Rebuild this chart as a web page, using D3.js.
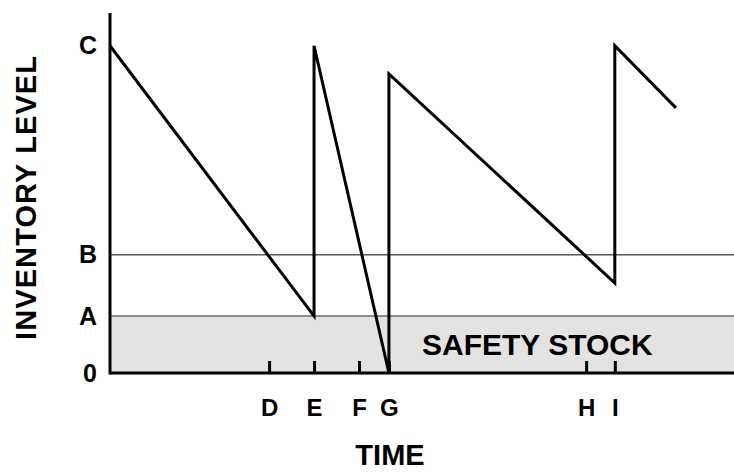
<!DOCTYPE html>
<html>
<head>
<meta charset="utf-8">
<script src="https://cdn.jsdelivr.net/npm/d3@7"></script>
<style>
    body { margin: 0; background: #fff; }
    text { font-family: "Liberation Sans", Arial, sans-serif; font-weight: bold; fill: #000; }
</style>
</head>
<body>
<div id="chart"></div>
<script>
// data (time and inventory in arbitrary units)
const levelNames = ["0", "A", "B", "C"]
const levelValues = [0, 17.4, 36.1, 100]
const safetyStock = 17.4
const reorderPoint = 36.1

const tickNames = ["D", "E", "F", "G", "H", "I"]
const tickTimes = [25.5, 32.7, 39.9, 44.7, 76.3, 80.9]

const seriesTime = [0, 32.7, 32.7, 44.7, 44.7, 80.9, 80.9, 90.7]
const seriesLevel = [100, 17.4, 100, 0, 91.4, 27.5, 100, 81]

function drawChart() {
    const dimensions = {
        width: 734,
        height: 472,
        margin: {top: 13, right: 0, bottom: 99, left: 110},
    }

    const svg = d3.select("#chart")
        .append("svg")
        .attr("width", dimensions.width)
        .attr("height", dimensions.height)

    const xScale = d3.scaleLinear()
        .domain([0, 100])
        .range([dimensions.margin.left, dimensions.width - dimensions.margin.right])
    const yScale = d3.scaleLinear()
        .domain([0, 110])
        .range([dimensions.height - dimensions.margin.bottom, dimensions.margin.top])

    // safety stock band
    svg.append("rect")
        .attr("x", xScale(0))
        .attr("y", yScale(safetyStock))
        .attr("width", xScale(100) - xScale(0))
        .attr("height", yScale(0) - yScale(safetyStock))
        .attr("fill", "#e3e3e3")
    svg.append("line")
        .attr("x1", xScale(0)).attr("x2", xScale(100))
        .attr("y1", yScale(safetyStock)).attr("y2", yScale(safetyStock))
        .attr("stroke", "#8c8c8c")
        .attr("stroke-width", 2)

    // reorder point line
    svg.append("line")
        .attr("x1", xScale(0)).attr("x2", xScale(100))
        .attr("y1", yScale(reorderPoint)).attr("y2", yScale(reorderPoint))
        .attr("stroke", "#000")
        .attr("stroke-width", 1)

    svg.append("text")
        .attr("x", 422)
        .attr("y", yScale(0) - 18)
        .style("font-size", "30px")
        .text("SAFETY STOCK")

    // inventory line
    const points = seriesTime.map((t, i) => [t, seriesLevel[i]])
    const lineGenerator = d3.line()
        .x(d => xScale(d[0]))
        .y(d => yScale(d[1]))
    svg.append("path")
        .attr("d", lineGenerator(points))
        .attr("fill", "none")
        .attr("stroke", "#000")
        .attr("stroke-width", 3)
        .attr("stroke-linejoin", "miter")

    // axes
    const xAxis = d3.axisBottom(xScale)
        .tickValues(tickTimes)
        .tickFormat((d, i) => tickNames[i])
        .tickSize(-12)
        .tickPadding(26)
    const xAxisGroup = svg.append("g")
        .attr("transform", "translate(0," + yScale(0) + ")")
        .call(xAxis)
    xAxisGroup.select(".domain").remove()
    xAxisGroup.selectAll("line").attr("stroke", "#000").attr("stroke-width", 3)
    xAxisGroup.selectAll("text").style("font-size", "24px").attr("font-family", null)

    const yAxis = d3.axisLeft(yScale)
        .tickValues(levelValues)
        .tickFormat((d, i) => levelNames[i])
        .tickSize(0)
        .tickPadding(13)
    const yAxisGroup = svg.append("g")
        .attr("transform", "translate(" + xScale(0) + ",0)")
        .call(yAxis)
    yAxisGroup.select(".domain").remove()
    yAxisGroup.selectAll("text").style("font-size", "25px").attr("font-family", null)

    svg.append("line")
        .attr("x1", xScale(0)).attr("x2", xScale(100))
        .attr("y1", yScale(0)).attr("y2", yScale(0))
        .attr("stroke", "#000").attr("stroke-width", 3)
    svg.append("line")
        .attr("x1", xScale(0)).attr("x2", xScale(0))
        .attr("y1", yScale(0) + 1.5).attr("y2", yScale(110))
        .attr("stroke", "#000").attr("stroke-width", 3)

    // titles
    svg.append("text")
        .attr("x", 390)
        .attr("y", 465)
        .attr("text-anchor", "middle")
        .style("font-size", "29px")
        .text("TIME")
    svg.append("text")
        .attr("transform", "translate(36,198) rotate(-90)")
        .attr("text-anchor", "middle")
        .attr("textLength", 284)
        .attr("lengthAdjust", "spacing")
        .style("font-size", "29px")
        .text("INVENTORY  LEVEL")
}

drawChart()
</script>
</body>
</html>
